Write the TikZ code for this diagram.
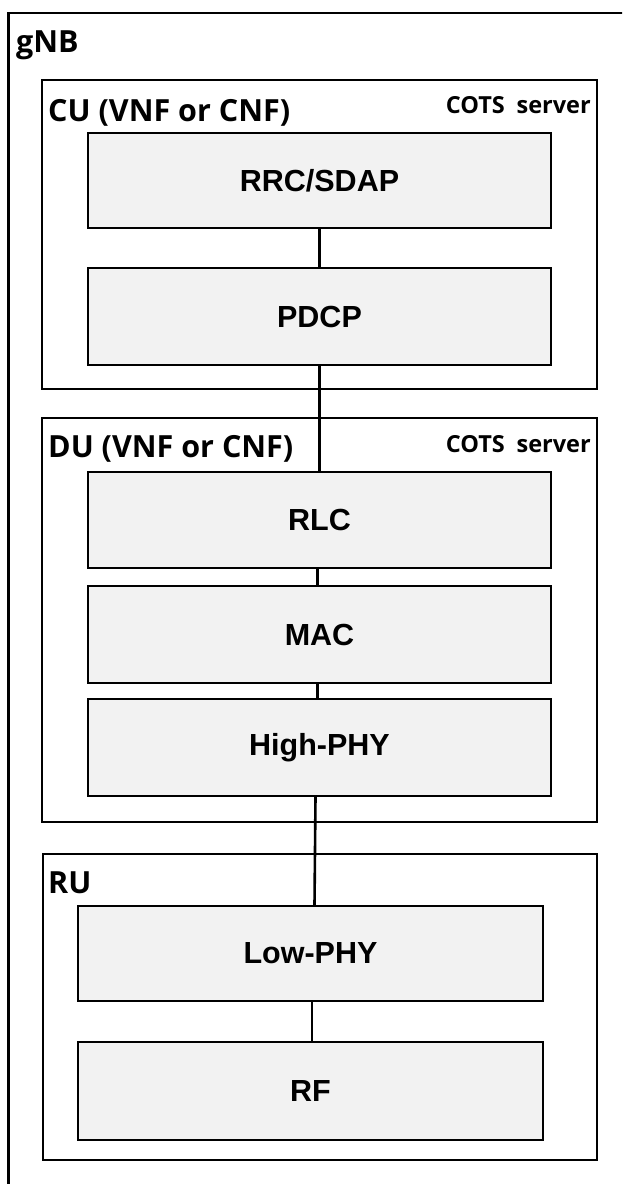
\documentclass[tikz,border=0pt]{standalone}
\usepackage{fontspec}
\setmainfont{Liberation Sans}
\newfontfamily\labfont{Open Sans}
\begin{document}
\begin{tikzpicture}[x=1pt,y=-1pt,
  frame/.style={draw=black, line width=2.4pt},
  layer/.style={draw=black, line width=2.4pt, fill=black!5, inner sep=0pt,
    font=\fontsize{30.5}{36}\selectfont\bfseries},
  grouplabel/.style={inner sep=0pt, font=\labfont\fontsize{30.5}{36}\selectfont\bfseries},
  serverlabel/.style={inner sep=0pt, font=\labfont\fontsize{23.5}{28}\selectfont\bfseries},
  link/.style={draw=black, line width=2.6pt}]
\useasboundingbox (0,0) rectangle (622,1184);
\clip (0,0) rectangle (622,1184);
% outer gNB frame (extends past right and bottom edges)
\draw[frame] (8.5,13) rectangle (640,1200);
\node[grouplabel, anchor=base west] (gnb) at (16,52) {gNB};
% CU
\draw[frame] (42,80) rectangle (597,389);
\node[grouplabel, anchor=base west] (cul) at (48,121) {CU (VNF or CNF)};
\node[serverlabel, anchor=base east] (cus) at (591,113) {COTS\hspace{0.5em}server};
\node[layer, minimum width=463pt, minimum height=95pt] (rrc) at (319.5,180.5) {RRC/SDAP};
\node[layer, minimum width=463pt, minimum height=97pt] (pdcp) at (319.5,316.5) {PDCP};
% DU
\draw[frame] (42,418) rectangle (597,822);
\node[grouplabel, anchor=base west] (dul) at (48,457) {DU (VNF or CNF)};
\node[serverlabel, anchor=base east] (dus) at (591,452) {COTS\hspace{0.5em}server};
\node[layer, minimum width=463pt, minimum height=96pt] (rlc) at (319.5,520) {RLC};
\node[layer, minimum width=463pt, minimum height=97pt] (mac) at (319.5,634.5) {MAC};
\node[layer, minimum width=463pt, minimum height=97pt] (hp) at (319.5,747.5) {High-PHY};
% RU
\draw[frame] (43,854) rectangle (597,1160);
\node[grouplabel, anchor=base west] (rul) at (48,893) {RU};
\node[layer, minimum width=465pt, minimum height=95pt] (lp) at (310.5,953.5) {Low-PHY};
\node[layer, minimum width=465pt, minimum height=98pt] (rf) at (310.5,1091) {RF};
% connectors
\draw[link] (rrc.south) -- (pdcp.north);
\draw[link] (pdcp.south) -- (rlc.north);
\draw[link] ([xshift=-2pt]rlc.south) -- ([xshift=-2pt]mac.north);
\draw[link] ([xshift=-2pt]mac.south) -- ([xshift=-2pt]hp.north);
\draw[link] ([xshift=-4pt]hp.south) -- ([xshift=4pt]lp.north);
\draw[link] ([xshift=1.5pt]lp.south) -- ([xshift=1.5pt]rf.north);
\end{tikzpicture}
\end{document}
